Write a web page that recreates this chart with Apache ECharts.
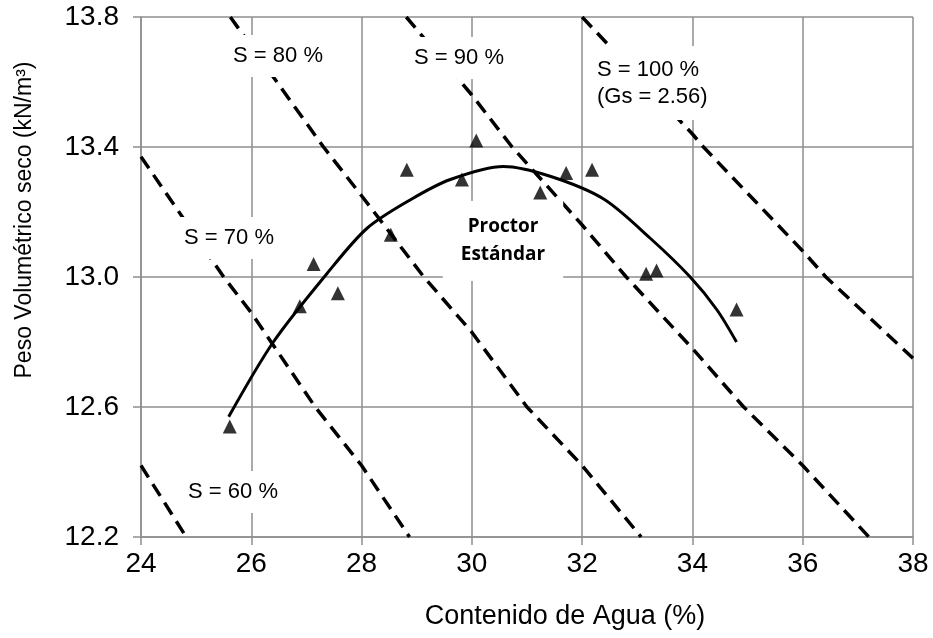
<!DOCTYPE html>
<html>
<head>
<meta charset="utf-8">
<script src="https://cdn.jsdelivr.net/npm/echarts@6/dist/echarts.min.js"></script>
<style>
  html, body { margin: 0; padding: 0; background: #fff; }
  #chart { width: 933px; height: 638px; }
</style>
</head>
<body>
<div id="chart"></div>
<script>
// axis ticks
const xTicks = [24, 26, 28, 30, 32, 34, 36, 38]
const yTicks = [12.2, 12.6, 13.0, 13.4, 13.8]

// measured points (Proctor test)
const waterContent = [25.61, 26.88, 27.13, 27.57, 28.53, 28.82, 29.82, 30.08, 31.24, 31.71, 32.18, 33.16, 33.35, 34.80]
const dryWeight = [12.54, 12.91, 13.04, 12.95, 13.13, 13.33, 13.30, 13.42, 13.26, 13.32, 13.33, 13.01, 13.02, 12.90]

// fitted compaction curve
const fitW = [25.59, 26.40, 27.37, 28.10, 28.91, 29.61, 30.57, 31.42, 32.39, 33.23, 33.96, 34.44, 34.80]
const fitG = [12.57, 12.80, 13.01, 13.15, 13.24, 13.30, 13.34, 13.31, 13.24, 13.12, 13.00, 12.90, 12.80]

// saturation lines, [w, gamma]
const s60 = [[24.0, 12.42], [24.82, 12.2]]
const s70 = [[24.0, 13.37], [25.5, 13.0], [26.0, 12.89], [27.16, 12.6], [28.0, 12.42], [28.87, 12.2]]
const s80 = [[25.62, 13.8], [27.31, 13.4], [28.0, 13.25], [29.13, 13.0], [30.0, 12.83], [31.0, 12.6], [32.0, 12.42], [33.07, 12.2]]
const s90 = [[28.81, 13.8], [30.0, 13.56], [30.73, 13.4], [32.0, 13.16], [32.8, 13.0], [34.0, 12.78], [34.93, 12.6], [36.0, 12.42], [37.2, 12.2]]
const s100 = [[32.0, 13.8], [34.0, 13.44], [34.2, 13.4], [36.0, 13.08], [36.42, 13.0], [38.0, 12.75]]

const chart = echarts.init(document.getElementById('chart'))

const gridColor = '#8e8e8e'
const fontFamily = '"Liberation Sans", Arial, sans-serif'

function dashed(data) {
  return {
    type: 'line',
    data: data,
    showSymbol: false,
    silent: true,
    z: 2,
    lineStyle: { color: '#000', width: 3.5, type: [14, 8] }
  }
}

// white-boxed annotation text
function note(text, x, y, opts) {
  return {
    type: 'text',
    z: 100,
    style: Object.assign({
      text: text,
      x: x,
      y: y,
      align: 'center',
      verticalAlign: 'middle',
      font: '22px ' + fontFamily,
      fill: '#000',
      backgroundColor: '#fff',
      padding: [10, 8]
    }, opts || {})
  }
}

const option = {
  animation: false,
  backgroundColor: '#fff',
  grid: { left: 141, right: 20, top: 17, bottom: 101 },
  xAxis: {
    type: 'value',
    min: xTicks[0],
    max: xTicks[xTicks.length - 1],
    interval: 2,
    axisLine: { lineStyle: { color: gridColor, width: 1.5 } },
    axisTick: { show: true, length: 8, lineStyle: { color: gridColor, width: 1.5 } },
    axisLabel: { color: '#000', fontSize: 28, fontFamily: fontFamily, margin: 13 },
    splitLine: { show: true, lineStyle: { color: gridColor, width: 1.5 } }
  },
  yAxis: {
    type: 'value',
    min: yTicks[0],
    max: yTicks[yTicks.length - 1],
    interval: 0.4,
    axisLine: { show: true, lineStyle: { color: gridColor, width: 1.5 } },
    axisTick: { show: true, length: 8, lineStyle: { color: gridColor, width: 1.5 } },
    axisLabel: {
      color: '#000', fontSize: 28, fontFamily: fontFamily, margin: 22,
      formatter: v => v.toFixed(1)
    },
    splitLine: { show: true, lineStyle: { color: gridColor, width: 1.5 } }
  },
  series: [
    dashed(s60),
    dashed(s70),
    dashed(s80),
    dashed(s90),
    dashed(s100),
    {
      type: 'line',
      data: fitW.map((w, i) => [w, fitG[i]]),
      smooth: 0.3,
      showSymbol: false,
      z: 3,
      lineStyle: { color: '#000', width: 3 }
    },
    {
      type: 'scatter',
      data: waterContent.map((w, i) => [w, dryWeight[i]]),
      symbol: 'triangle',
      symbolSize: 14,
      z: 4,
      itemStyle: { color: '#000' }
    }
  ],
  graphic: [
    note('S = 80 %', 278, 56),
    note('S = 90 %', 459, 58),
    note('S = 100 %\n(Gs = 2.56)', 591, 83, { align: 'left', lineHeight: 27, padding: [10, 6] }),
    note('S = 70 %', 229, 238),
    note('S = 60 %', 233, 492),
    note('Proctor\nEstándar', 503, 241, {
      font: 'bold 19px "Open Sans", sans-serif', lineHeight: 28, padding: [12, 18]
    }),
    {
      type: 'text',
      z: 100,
      style: {
        text: 'Contenido de Agua (%)', x: 565, y: 617,
        align: 'center', verticalAlign: 'middle',
        font: '27px ' + fontFamily, fill: '#000'
      }
    },
    {
      type: 'text',
      z: 100,
      x: 25,
      y: 220,
      rotation: Math.PI / 2,
      style: {
        text: 'Peso Volumétrico seco (kN/m³)', x: 0, y: 0,
        align: 'center', verticalAlign: 'middle',
        font: '23px ' + fontFamily, fill: '#000'
      }
    }
  ]
}

chart.setOption(option)

window.addEventListener('resize', () => {
  chart && chart.resize()
})
</script>
</body>
</html>
